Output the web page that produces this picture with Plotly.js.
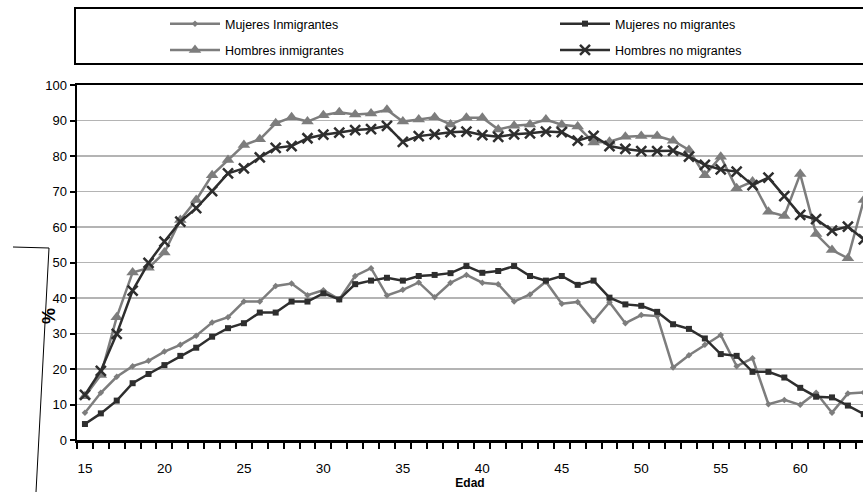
<!DOCTYPE html>
<html>
<head>
<meta charset="utf-8">
<script src="https://cdn.plot.ly/plotly-3.0.1.min.js"></script>
<style>html,body{margin:0;padding:0;background:#fff;}#chart{width:863px;height:492px;}</style>
</head>
<body>
<div id="chart"></div>
<script>
const ages = [15,16,17,18,19,20,21,22,23,24,25,26,27,28,29,30,31,32,33,34,35,36,37,38,39,40,41,42,43,44,45,46,47,48,49,50,51,52,53,54,55,56,57,58,59,60,61,62,63,64];
const seriesNames = ["Mujeres Inmigrantes","Mujeres no migrantes","Hombres inmigrantes","Hombres no migrantes"];
const mujeresInmigrantes = [7.7,13.3,17.8,20.8,22.3,24.9,26.8,29.4,33.1,34.6,39,39,43.4,44.1,40.8,42.2,39.6,46.2,48.4,40.7,42.3,44.4,40.2,44.3,46.5,44.3,43.9,39,41,44.6,38.4,38.9,33.5,38.8,32.9,35.2,34.9,20.4,23.9,26.8,29.6,20.8,23,10.1,11.3,9.9,13.3,7.7,13.1,13.4];
const mujeresNoMigrantes = [4.5,7.5,11.1,16,18.6,21.1,23.7,26,29.1,31.5,32.9,35.9,35.9,39,39,41.3,39.6,43.9,44.9,45.7,44.9,46.2,46.5,47,49,47.1,47.6,49,46.2,44.9,46.2,43.7,44.9,40.1,38.2,37.8,36.1,32.6,31.3,28.6,24.2,23.7,19.2,19.2,17.6,14.7,12.2,12,9.7,7.3];
const hombresInmigrantes = [12.3,18.3,34.6,47.2,48.5,52.8,62,67.6,74.6,78.9,83.1,84.7,89.2,90.9,89.7,91.5,92.3,91.7,92,93,89.7,90.3,90.9,88.9,90.8,90.8,87.5,88.5,88.9,90.3,88.8,88.3,83.8,84,85.4,85.6,85.6,84.3,81.7,74.6,79.8,70.9,72.8,64.3,63.1,74.9,58,53.5,51.2,67.6];
const hombresNoMigrantes = [12.7,19.5,29.9,42.1,49.9,55.9,61.5,65.3,70.1,75.1,76.5,79.6,82.3,82.8,85,86,86.6,87.3,87.6,88.5,84,85.6,86.1,86.7,86.9,85.9,85.4,86.1,86.4,86.9,86.7,84.3,85.7,82.8,82,81.4,81.4,81.5,79.8,77.5,76.2,75.6,71.8,73.9,68.7,63.4,62.2,59,60.1,56.5];
const xTickVals = [15,20,25,30,35,40,45,50,55,60];
const yTickVals = [0,10,20,30,40,50,60,70,80,90,100];

const light = '#7d7d7d';
const dark = '#2e2e2e';
const traces = [
  {x: ages, y: mujeresInmigrantes, name: seriesNames[0], mode: 'lines+markers', legend: 'legend', legendgroup: 'a',
   line: {color: light, width: 2.5}, marker: {symbol: 'diamond', size: 5, color: light}},
  {x: ages, y: mujeresNoMigrantes, name: seriesNames[1], mode: 'lines+markers', legend: 'legend2', legendgroup: 'b',
   line: {color: dark, width: 2.5}, marker: {symbol: 'square', size: 6, color: dark}},
  {x: ages, y: hombresInmigrantes, name: seriesNames[2], mode: 'lines+markers', legend: 'legend', legendgroup: 'c',
   line: {color: light, width: 2.5}, marker: {symbol: 'triangle-up', size: 11, color: light}},
  {x: ages, y: hombresNoMigrantes, name: seriesNames[3], mode: 'lines+markers', legend: 'legend2', legendgroup: 'd',
   line: {color: dark, width: 2.5}, marker: {symbol: 'x-thin-open', size: 10, color: dark, line: {color: dark, width: 2.5}}}
];

const W = 786, H = 355, L = 77, T = 85;
const px = v => (v - L) / W;
const py = v => (T + H - v) / H;

const legendFont = {size: 12.5, family: '"Liberation Sans", Arial, sans-serif', color: '#000'};
const layout = {
  width: 863, height: 492,
  margin: {l: 77, r: 0, t: 85, b: 52},
  paper_bgcolor: '#ffffff', plot_bgcolor: '#ffffff',
  font: {family: '"Liberation Sans", Arial, sans-serif', color: '#000', size: 13},
  showlegend: true,
  legend: {orientation: 'v', x: px(165), y: py(9), xanchor: 'left', yanchor: 'top',
    bgcolor: 'rgba(0,0,0,0)', font: legendFont, tracegroupgap: 7, itemwidth: 50},
  legend2: {orientation: 'v', x: px(555), y: py(9), xanchor: 'left', yanchor: 'top',
    bgcolor: 'rgba(0,0,0,0)', font: legendFont, tracegroupgap: 7, itemwidth: 50},
  xaxis: {
    range: [14.5, 63.95], tickvals: xTickVals, ticktext: xTickVals.map(String),
    ticks: 'outside', ticklen: 14, tickcolor: 'rgba(0,0,0,0)',
    minor: {tick0: 14.5, dtick: 1, ticks: 'outside', ticklen: 6, tickwidth: 2, tickcolor: '#000', showgrid: false},
    showline: true, linecolor: '#000', linewidth: 2.5, mirror: true,
    showgrid: false, zeroline: false, fixedrange: true,
    tickfont: {size: 13.5},
    title: {text: '<b>Edad</b>', font: {size: 12}, standoff: 0}
  },
  yaxis: {
    range: [0, 100], tickvals: yTickVals,
    ticks: 'outside', ticklen: 5, tickwidth: 2, tickcolor: '#000',
    showline: true, linecolor: '#000', linewidth: 2.5,
    showgrid: true, gridcolor: '#b4b4b4', gridwidth: 1.8,
    zeroline: false, fixedrange: true, tickfont: {size: 13}
  },
  annotations: [
    {text: '<b>%</b>', xref: 'paper', yref: 'paper', x: px(49), y: py(316), xanchor: 'center', yanchor: 'middle',
     showarrow: false, textangle: -90, font: {size: 18, color: '#000'}}
  ],
  shapes: [
    {type: 'rect', xref: 'paper', yref: 'paper', x0: px(75), x1: px(875), y0: py(64), y1: py(8),
     line: {color: '#000', width: 2}, fillcolor: 'rgba(0,0,0,0)'},
    {type: 'line', xref: 'paper', yref: 'paper', x0: px(13), y0: py(247), x1: px(49), y1: py(248),
     line: {color: '#000', width: 1}},
    {type: 'line', xref: 'paper', yref: 'paper', x0: px(49), y0: py(248), x1: px(36), y1: py(492),
     line: {color: '#000', width: 1}}
  ]
};

Plotly.newPlot('chart', traces, layout, {displayModeBar: false, staticPlot: true});
</script>
</body>
</html>
